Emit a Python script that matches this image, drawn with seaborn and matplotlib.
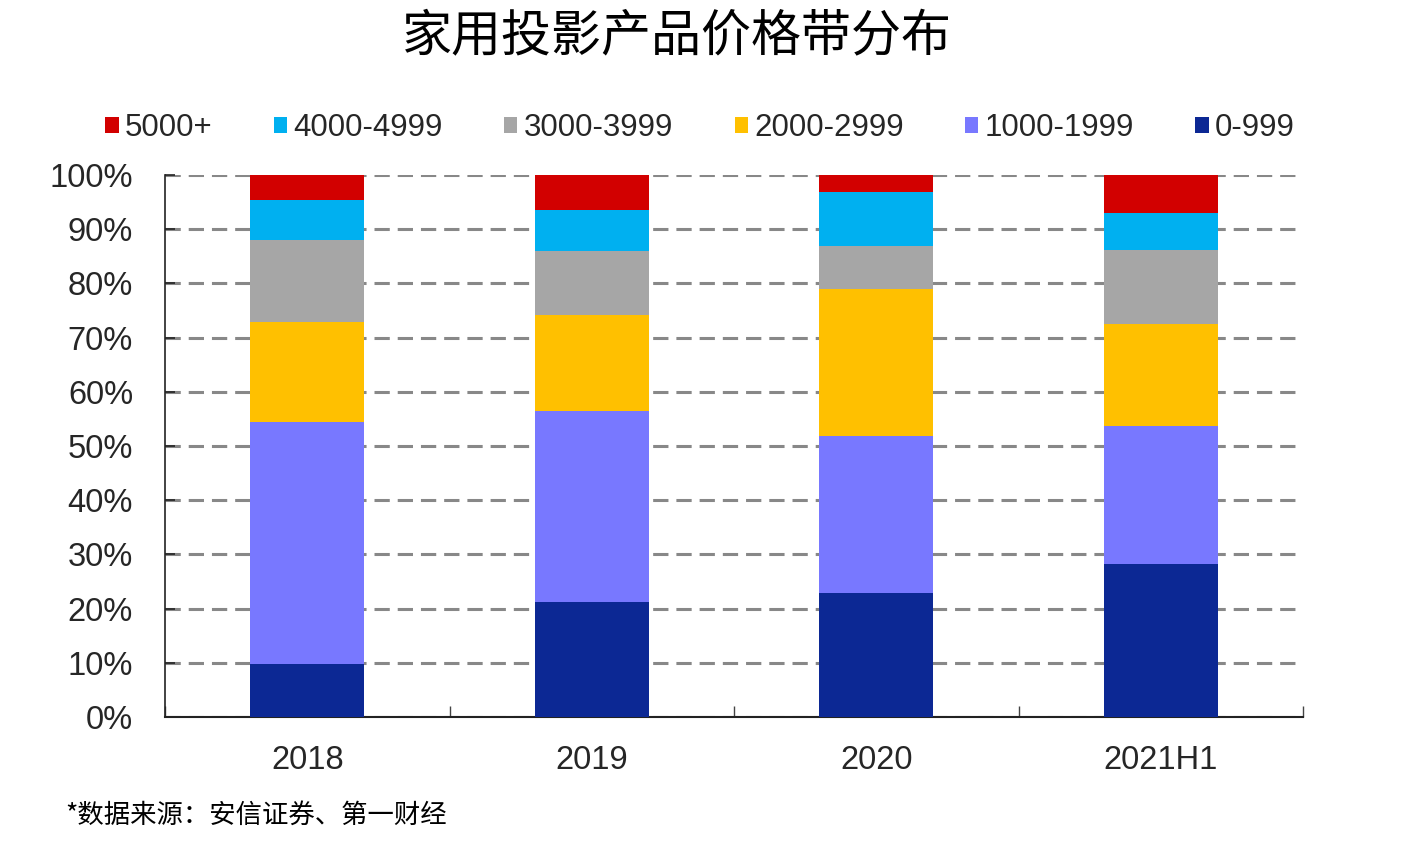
import matplotlib
matplotlib.use("Agg")
import matplotlib.pyplot as plt
import numpy as np
import pandas as pd
import seaborn as sns

# data (share of sales, %)
years = ["2018", "2019", "2020", "2021H1"]
bands = ["5000+", "4000-4999", "3000-3999", "2000-2999", "1000-1999", "0-999"]
p_5000 = [4.7, 6.5, 3.1, 7.0]
p_4000 = [7.3, 7.5, 10.0, 6.8]
p_3000 = [15.1, 11.8, 8.0, 13.7]
p_2000 = [18.4, 17.7, 27.1, 18.8]
p_1000 = [44.7, 35.3, 28.9, 25.4]
p_0 = [9.8, 21.2, 22.9, 28.3]
colors = ["#d20000", "#00b0f0", "#a6a6a6", "#ffc000", "#7878ff", "#0c2894"]

sns.set_theme(style="white")
plt.rcParams["font.family"] = ["Liberation Sans", "Noto Sans CJK SC", "DejaVu Sans"]

df = pd.DataFrame({"year": years, "5000+": p_5000, "4000-4999": p_4000,
                   "3000-3999": p_3000, "2000-2999": p_2000,
                   "1000-1999": p_1000, "0-999": p_0})
# cumulative from the bottom band upwards
stack_order = bands[::-1]
cum = df[stack_order].cumsum(axis=1)

fig = plt.figure(figsize=(14.12, 8.44), dpi=100)
ax = fig.add_axes([0.1169, 0.1505, 0.8059, 0.6422])

for band, c in zip(bands, colors):
    sns.barplot(x=df["year"], y=cum[band], color=c, width=0.4, ax=ax,
                label=band, linewidth=0, saturation=1, zorder=3)

handles, labels = ax.get_legend_handles_labels()
if ax.get_legend() is not None:
    ax.get_legend().remove()

ax.set_xlim(-0.5, 3.5)
ax.set_ylim(0, 100)
ax.set_yticks(np.arange(0, 101, 10))
ax.set_yticklabels([f"{v}%" for v in range(0, 101, 10)])
ax.set_xlabel("")
ax.set_ylabel("")

ax.yaxis.grid(True, color="#888888", linewidth=2.2, linestyle=(0, (5, 2.6)), zorder=0)
ax.xaxis.grid(False)
ax.set_axisbelow(True)

for s in ["top", "right"]:
    ax.spines[s].set_visible(False)
ax.spines["left"].set_color("#222222")
ax.spines["left"].set_linewidth(1.2)
ax.spines["bottom"].set_color("#222222")
ax.spines["bottom"].set_linewidth(1.5)

ax.tick_params(axis="y", which="major", direction="in", length=7, width=1.2,
               color="#222222", pad=23, labelsize=23.5, left=True)
ax.tick_params(axis="x", which="major", length=0, pad=20, labelsize=23.5)
ax.set_xticks(np.arange(-0.5, 3.6, 1), minor=True)
ax.tick_params(axis="x", which="minor", direction="in", length=8, width=1,
               color="#444444", bottom=True)

fig.legend(handles, labels, loc="center", bbox_to_anchor=(0.4958, 0.848), ncol=6,
           frameon=False, fontsize=22.5, handlelength=0.42, handleheight=0.42,
           handletextpad=0.2, columnspacing=1.97, borderaxespad=0)

fig.text(0.4795, 0.956, "家用投影产品价格带分布", ha="center", va="center",
         fontsize=36, family=["Noto Sans CJK SC"], color="black")
fig.text(0.046, 0.034, "*数据来源：安信证券、第一财经", ha="left", va="center",
         fontsize=19, family=["Noto Sans CJK SC", "DejaVu Sans"], color="black")

fig.savefig("out.png", dpi=100, facecolor="white")
